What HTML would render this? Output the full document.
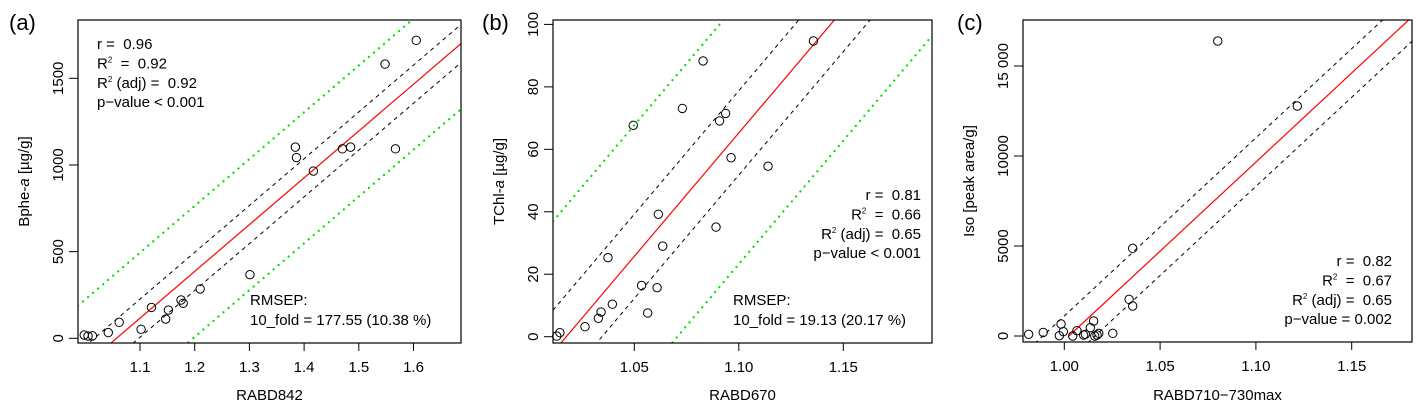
<!DOCTYPE html>
<html><head><meta charset="utf-8">
<style>
html,body{margin:0;padding:0;background:#fff;overflow:hidden;width:1425px;height:413px;}
svg{display:block;font-family:"Liberation Sans",Arial,sans-serif;}
text{white-space:pre;}
</style></head>
<body>
<svg id="chart" width="1425" height="413" viewBox="0 0 1425 413"></svg>
<script>
// Panel (a) data
const aX = [0.998,1.005,1.013,1.042,1.062,1.102,1.121,1.147,1.152,1.175,1.179,1.210,1.301,1.384,1.386,1.417,1.470,1.485,1.548,1.567,1.605];
const aY = [19,13,14,33,92,52,178,111,163,221,202,285,367,1103,1043,965,1093,1103,1582,1093,1719];
const aXTicks = [1.1,1.2,1.3,1.4,1.5,1.6];
const aXTickLabels = ["1.1","1.2","1.3","1.4","1.5","1.6"];
const aYTicks = [0,500,1000,1500];
const aYTickLabels = ["0","500","1000","1500"];
const aFit = [-2854,2700]; // intercept, slope
const aBands = [110,378]; // dashed, dotted offsets
const aStats = ["0.96","0.92","0.92","< 0.001"];
const aRmsep = "10_fold = 177.55 (10.38 %)";

// Panel (b) data
const bX = [1.0129,1.0144,1.0264,1.0328,1.0341,1.0395,1.0374,1.0495,1.0535,1.0564,1.0609,1.0615,1.0636,1.0730,1.0829,1.0891,1.0908,1.0937,1.0963,1.1140,1.1357];
const bY = [0.2,1.3,3.2,5.9,7.9,10.4,25.3,67.7,16.4,7.6,15.7,39.2,29.0,73.1,88.3,35.1,69.1,71.5,57.3,54.6,94.7];
const bXTicks = [1.05,1.10,1.15];
const bXTickLabels = ["1.05","1.10","1.15"];
const bYTicks = [0,20,40,60,80,100];
const bYTickLabels = ["0","20","40","60","80","100"];
const bFit = [-804.3,790.5];
const bBands = [13.5,42];
const bStats = ["0.81","0.66","0.65","< 0.001"];
const bRmsep = "10_fold = 19.13 (20.17 %)";

// Panel (c) data
const cX = [0.9814,0.989,0.9974,0.9983,0.9995,1.0044,1.0066,1.0101,1.011,1.0136,1.0153,1.0159,1.0171,1.018,1.0253,1.0338,1.0357,1.0357,1.0801,1.1216];
const cY = [94,200,19,667,241,0,296,56,94,463,833,0,56,148,148,2037,4870,1667,16389,12778];
const cXTicks = [1.00,1.05,1.10,1.15];
const cXTickLabels = ["1.00","1.05","1.10","1.15"];
const cYTicks = [0,5000,10000,15000];
const cYTickLabels = ["0","5000","10000","15 000"];
const cFit = [-99216,98980];
const cBands = [1350];
const cStats = ["0.82","0.67","0.65","= 0.002"];

const NS = "http://www.w3.org/2000/svg";
const svg = document.getElementById("chart");
function mk(tag, attrs, parent, text){
  const e = document.createElementNS(NS, tag);
  for (const k in attrs) e.setAttribute(k, attrs[k]);
  if (text !== undefined) e.textContent = text;
  (parent||svg).appendChild(e);
  return e;
}

function panel(cfg){
  const g = mk("g", {});
  
  
  const {L,R,T,B} = cfg.box;
  const sx = v => cfg.xp0 + (v - cfg.xv0) * cfg.xk;
  const sy = v => cfg.yp0 - (v - cfg.yv0) * cfg.yk;
  const ix = p => cfg.xv0 + (p - cfg.xp0) / cfg.xk;
  const clipId = cfg.name + "-clip";
  const defs = mk("defs", {}, g);
  const cp = mk("clipPath", {id: clipId}, defs);
  mk("rect", {x:L, y:T, width:R-L, height:B-T}, cp);

  const plot = mk("g", {"clip-path": "url(#"+clipId+")"}, g);
  function line(off, style, name, xmin){
    const x1v = xmin !== undefined ? xmin : ix(L), x2v = ix(R);
    const f = v => cfg.fit[0] + cfg.fit[1]*v + off;
    const l = mk("line", Object.assign({x1:sx(x1v), y1:sy(f(x1v)), x2:sx(x2v), y2:sy(f(x2v))}, style), plot);
    
    
  }
  if (cfg.bands[1] !== undefined){
    line(cfg.bands[1], {stroke:"#00e000","stroke-width":2.2,"stroke-dasharray":"0.1 6.5","stroke-linecap":"round"}, "upper-prediction-band");
    line(-cfg.bands[1], {stroke:"#00e000","stroke-width":2.2,"stroke-dasharray":"0.1 6.5","stroke-linecap":"round"}, "lower-prediction-band");
  }
  line(cfg.bands[0], {stroke:"#000","stroke-width":1,"stroke-dasharray":"4 4"}, "upper-confidence-band");
  line(-cfg.bands[0], {stroke:"#000","stroke-width":1,"stroke-dasharray":"4 4"}, "lower-confidence-band");
  line(0, {stroke:"#ff0000","stroke-width":1.2}, "regression-line", cfg.redFromZero ? -cfg.fit[0]/cfg.fit[1] : undefined);

  for (let i=0;i<cfg.xs.length;i++){
    const c = mk("circle", {cx:sx(cfg.xs[i]), cy:sy(cfg.ys[i]), r:4.2, fill:"none", stroke:"#000","stroke-width":1}, g);
    
    
  }
  const box = mk("rect", {x:L, y:T, width:R-L, height:B-T, fill:"none", stroke:"#000","stroke-width":1.2}, g);
  
  

  // x axis
  const xa = mk("g", {}, g);
  
  
  cfg.xt.forEach((v,i)=>{
    const x = sx(v);
    mk("line",{x1:x,y1:B,x2:x,y2:B+8,stroke:"#000","stroke-width":1},xa);
    const t = mk("text",{x:x,y:B+29,"font-size":15,"text-anchor":"middle"},xa,cfg.xtl[i]);
    
    
  });
  mk("line",{x1:sx(cfg.xt[0]),y1:B,x2:sx(cfg.xt[cfg.xt.length-1]),y2:B,stroke:"#000"},xa);
  const xt = mk("text",{x:(L+R)/2,y:400,"font-size":15,"text-anchor":"middle"},xa,cfg.xlabel);
  
  

  // y axis
  const ya = mk("g", {}, g);
  
  
  cfg.yt.forEach((v,i)=>{
    const y = sy(v);
    mk("line",{x1:L-9,y1:y,x2:L,y2:y,stroke:"#000","stroke-width":1},ya);
    const tx = L-15;
    const t = mk("text",{x:tx,y:y,"font-size":15,"text-anchor":"middle",transform:"rotate(-90 "+tx+" "+y+")"},ya,cfg.ytl[i]);
    
    
  });
  const yt = mk("text",{x:0,y:0,"font-size":15,"text-anchor":"middle",transform:"translate("+(L-49)+","+((T+B)/2)+") rotate(-90)"},ya);
  
  
  yt.innerHTML = cfg.ylabel;

  // label
  const lab = mk("text",{x:cfg.labX,y:30,"font-size":22},g,cfg.letter);
  
  

  // stats
  const st = mk("g",{"font-size":15},g);
  
  
  const anchor = cfg.statsAlign;
  const lines = [
    "r =  " + cfg.stats[0],
    'R<tspan font-size="8" dy="-6">2</tspan><tspan dy="6">  =  ' + cfg.stats[1] + '</tspan>',
    'R<tspan font-size="8" dy="-6">2</tspan><tspan dy="6"> (adj) =  ' + cfg.stats[2] + '</tspan>',
    "p\u2212value " + cfg.stats[3]
  ];
  lines.forEach((s,i)=>{
    const t = mk("text",{x:cfg.statsX,y:cfg.statsY+i*19.4,"text-anchor":anchor},st);
    t.innerHTML = s;
  });
  if (cfg.rmsep){
    const rg = mk("g",{"font-size":15},g);
    
    
    mk("text",{x:cfg.rmsepX,y:305},rg,"RMSEP:");
    mk("text",{x:cfg.rmsepX,y:325},rg,cfg.rmsep);
  }
}

panel({name:"panel-a", letter:"(a)", labX:9, box:{L:78,R:461,T:20,B:343},
  xp0:140, xv0:1.1, xk:547, yp0:338.3, yv0:0, yk:0.17333,
  xs:aX, ys:aY, xt:aXTicks, xtl:aXTickLabels, yt:aYTicks, ytl:aYTickLabels,
  fit:aFit, bands:aBands, stats:aStats, statsAlign:"start", statsX:97, statsY:49,
  rmsep:aRmsep, rmsepX:250, xlabel:"RABD842",
  ylabel:'Bphe-<tspan font-style="italic">a</tspan> [µg/g]'});

panel({name:"panel-b", letter:"(b)", labX:482, box:{L:553,R:932,T:20,B:343},
  xp0:634.3, xv0:1.05, xk:2090, yp0:336.7, yv0:0, yk:3.123,
  xs:bX, ys:bY, xt:bXTicks, xtl:bXTickLabels, yt:bYTicks, ytl:bYTickLabels,
  fit:bFit, bands:bBands, stats:bStats, statsAlign:"end", statsX:921, statsY:200,
  rmsep:bRmsep, rmsepX:733, xlabel:"RABD670",
  ylabel:'TChl-<tspan font-style="italic">a</tspan> [µg/g]'});

panel({name:"panel-c", letter:"(c)", labX:957, box:{L:1023,R:1412,T:20,B:342},
  xp0:1064.3, xv0:1.0, xk:1916, yp0:336, yv0:0, yk:0.018,
  xs:cX, ys:cY, xt:cXTicks, xtl:cXTickLabels, yt:cYTicks, ytl:cYTickLabels,
  fit:cFit, bands:cBands, stats:cStats, statsAlign:"end", statsX:1392, statsY:266,
  redFromZero:true, xlabel:"RABD710\u2212730max",
  ylabel:'Iso [peak area/g]'});
</script>
</body></html>
